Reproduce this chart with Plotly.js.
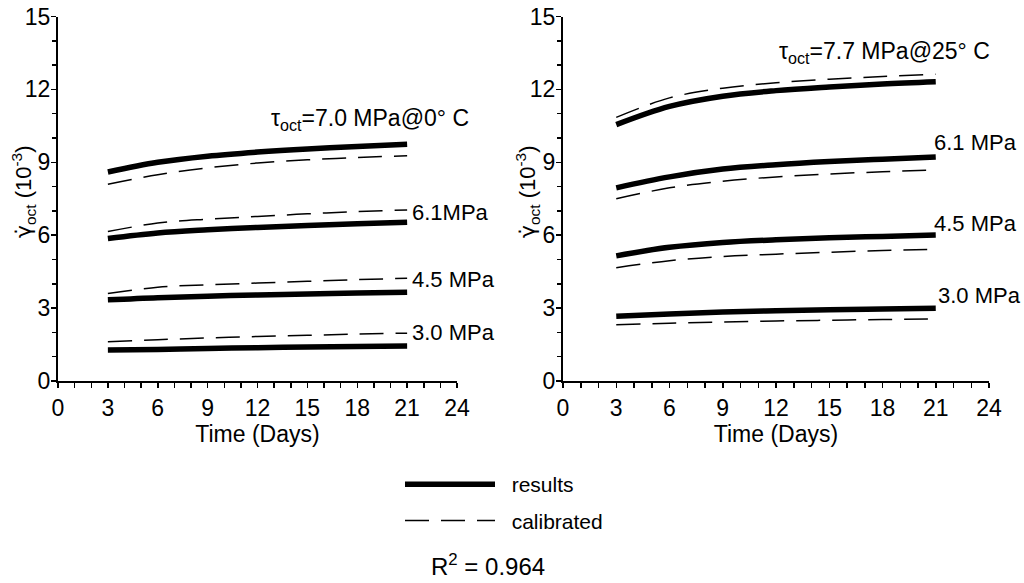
<!DOCTYPE html>
<html>
<head>
<meta charset="utf-8">
<script src="https://cdn.plot.ly/plotly-3.0.1.min.js"></script>
<style>html,body{margin:0;padding:0;background:#fff;}#chart{width:1024px;height:583px;}</style>
</head>
<body>
<div id="chart"></div>
<script>
// Time (days)
var days = [3, 6, 9, 12, 15, 18, 21];

// Left panel: tau_oct series at 0 °C
var left_res_30 = [1.28, 1.30, 1.34, 1.37, 1.40, 1.42, 1.44];
var left_cal_30 = [1.62, 1.70, 1.77, 1.83, 1.88, 1.93, 1.97];
var left_res_45 = [3.34, 3.43, 3.49, 3.54, 3.58, 3.62, 3.65];
var left_cal_45 = [3.60, 3.86, 3.96, 4.03, 4.10, 4.17, 4.23];
var left_res_61 = [5.86, 6.09, 6.22, 6.32, 6.40, 6.47, 6.53];
var left_cal_61 = [6.15, 6.50, 6.66, 6.77, 6.88, 6.97, 7.04];
var left_res_70 = [8.60, 9.00, 9.25, 9.42, 9.55, 9.65, 9.74];
var left_cal_70 = [8.10, 8.49, 8.77, 8.97, 9.10, 9.20, 9.27];

// Right panel: tau_oct series at 25 °C
var right_res_30 = [2.66, 2.76, 2.84, 2.89, 2.93, 2.96, 2.99];
var right_cal_30 = [2.31, 2.38, 2.43, 2.47, 2.50, 2.53, 2.55];
var right_res_45 = [5.15, 5.50, 5.70, 5.81, 5.89, 5.95, 6.01];
var right_cal_45 = [4.66, 4.95, 5.12, 5.22, 5.30, 5.37, 5.42];
var right_res_61 = [7.95, 8.40, 8.72, 8.90, 9.03, 9.13, 9.22];
var right_cal_61 = [7.50, 7.95, 8.22, 8.40, 8.52, 8.61, 8.68];
var right_res_77 = [10.55, 11.30, 11.72, 11.95, 12.10, 12.22, 12.31];
var right_cal_77 = [10.85, 11.65, 12.05, 12.27, 12.42, 12.53, 12.62];

var xTicks = [0, 3, 6, 9, 12, 15, 18, 21, 24];
var yTicks = [0, 3, 6, 9, 12, 15];

var FONT = "Liberation Sans, Arial, sans-serif";
var resLine = {color: "#000", width: 5.5, shape: "spline"};
var calLine = {color: "#000", width: 1.5, dash: "24px,12px", shape: "spline"};
var NB = "\u00a0\u00a0";

function res(y, xa, ya, show) {
  return {x: days, y: y, xaxis: xa, yaxis: ya, mode: "lines", name: NB + "results",
          line: resLine, showlegend: !!show, legendgroup: "g1"};
}
function cal(y, xa, ya, show) {
  return {x: days, y: y, xaxis: xa, yaxis: ya, mode: "lines", name: NB + "calibrated",
          line: calLine, showlegend: !!show, legendgroup: "g2"};
}

var data = [
  res(left_res_70, "x", "y", true), cal(left_cal_70, "x", "y", true),
  res(left_res_61, "x", "y"), cal(left_cal_61, "x", "y"),
  res(left_res_45, "x", "y"), cal(left_cal_45, "x", "y"),
  res(left_res_30, "x", "y"), cal(left_cal_30, "x", "y"),
  res(right_res_77, "x2", "y2"), cal(right_cal_77, "x2", "y2"),
  res(right_res_61, "x2", "y2"), cal(right_cal_61, "x2", "y2"),
  res(right_res_45, "x2", "y2"), cal(right_cal_45, "x2", "y2"),
  res(right_res_30, "x2", "y2"), cal(right_cal_30, "x2", "y2")
];

function xAxis(domain, anchor) {
  return {domain: domain, anchor: anchor, range: [0, 24], tickvals: xTicks,
          showline: true, linewidth: 2, linecolor: "#000", showgrid: false, zeroline: false,
          ticks: "outside", ticklen: 5, tickwidth: 1.5, tickcolor: "#000",
          minor: {dtick: 1, ticks: "outside", ticklen: 5, tickwidth: 1.5, tickcolor: "#000", showgrid: false},
          tickfont: {family: FONT, size: 23, color: "#000"},
          title: {text: "Time (Days)", font: {family: FONT, size: 23, color: "#000"}, standoff: 2}};
}
function yAxis(domain, anchor) {
  return {domain: domain, anchor: anchor, range: [0, 15], tickvals: yTicks,
          showline: true, linewidth: 2, linecolor: "#000", showgrid: false, zeroline: false,
          ticks: "outside", ticklen: 5, tickwidth: 1.5, tickcolor: "#000",
          ticklabelstandoff: -4,
          minor: {dtick: 1, ticks: "outside", ticklen: 4, tickwidth: 1.5, tickcolor: "#000", showgrid: false},
          tickfont: {family: FONT, size: 23, color: "#000"}};
}

var yDom = [202 / 583, 566.5 / 583];
var yTitle = "<span style=\"font-family:DejaVu Sans\">γ\u0307</span><sub>oct</sub> (10<sup>-3</sup>)";

function lab(text, x, y, xref, yref, size) {
  return {text: text, x: x, y: y, xref: xref, yref: yref, xanchor: "left", yanchor: "middle",
          showarrow: false, font: {family: FONT, size: size || 22, color: "#000"}};
}
function ytitle(px) {
  return {text: yTitle, x: px / 1024, y: 1 - 192 / 583, xref: "paper", yref: "paper",
          xanchor: "center", yanchor: "middle", textangle: -90, showarrow: false,
          font: {family: FONT, size: 22, color: "#000"}};
}

var layout = {
  width: 1024, height: 583,
  margin: {l: 0, r: 0, t: 0, b: 0},
  paper_bgcolor: "#fff", plot_bgcolor: "#fff",
  font: {family: FONT, color: "#000"},
  xaxis: xAxis([58 / 1024, 457 / 1024], "y"),
  yaxis: yAxis(yDom, "x"),
  xaxis2: xAxis([563 / 1024, 989 / 1024], "y2"),
  yaxis2: yAxis(yDom, "x2"),
  showlegend: true,
  legend: {x: 400 / 1024, y: 1 - 464 / 583, xanchor: "left", yanchor: "top", orientation: "v",
           itemwidth: 90, tracegroupgap: 6, traceorder: "grouped",
           font: {family: FONT, size: 21, color: "#000"}, bgcolor: "rgba(0,0,0,0)"},
  annotations: [
    ytitle(24), ytitle(528),
    lab("τ<sub>oct</sub>=7.0 MPa@0° C", 12.69, 10.75, "x", "y", 23),
    lab("6.1MPa", 21.17, 6.92, "x", "y"),
    lab("4.5 MPa", 21.2, 4.16, "x", "y"),
    lab("3.0 MPa", 21.2, 1.98, "x", "y"),
    lab("τ<sub>oct</sub>=7.7 MPa@25° C", 12.05, 13.5, "x2", "y2", 23),
    lab("6.1 MPa", 20.78, 9.8, "x2", "y2"),
    lab("4.5 MPa", 20.78, 6.5, "x2", "y2"),
    lab("3.0 MPa", 21.0, 3.5, "x2", "y2"),
    {text: "R<sup>2</sup> = 0.964", x: 488 / 1024, y: 1 - 565 / 583, xref: "paper", yref: "paper",
     xanchor: "center", yanchor: "middle", showarrow: false, font: {family: FONT, size: 24, color: "#000"}}
  ]
};

Plotly.newPlot("chart", data, layout, {displayModeBar: false, staticPlot: true});
</script>
</body>
</html>
